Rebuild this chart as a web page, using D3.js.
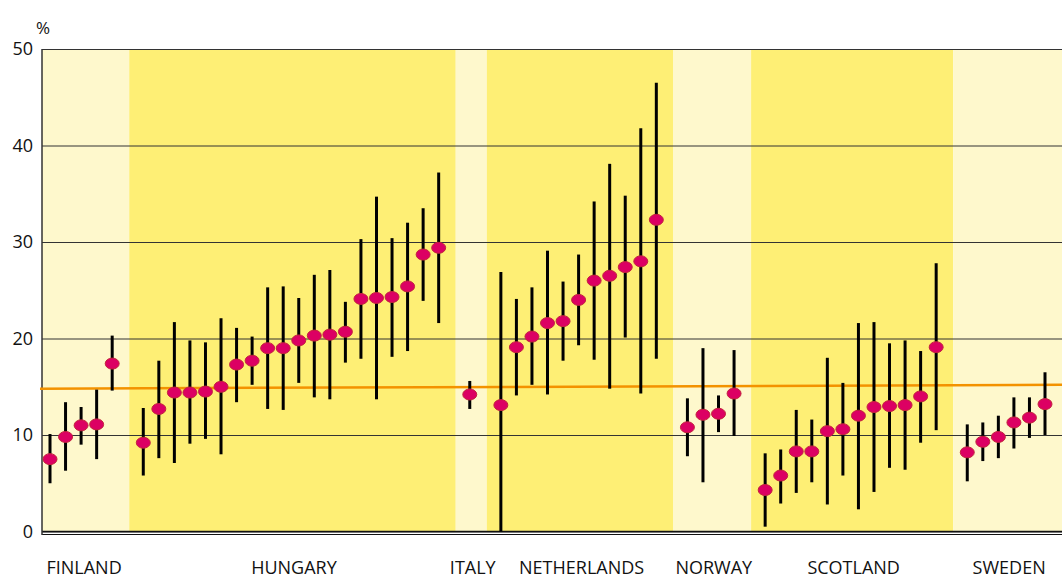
<!DOCTYPE html>
<html>
<head>
<meta charset="utf-8">
<script src="https://cdn.jsdelivr.net/npm/d3@7"></script>
<style>
  body { margin: 0; background: #fff; }
  svg { display: block; font-family: "Open Sans", "Noto Sans", sans-serif; }
</style>
</head>
<body>
<svg id="chart" width="1062" height="578"></svg>
<script>
// countries and their estimates (%), with lower / upper limits
var countries = ["FINLAND", "HUNGARY", "ITALY", "NETHERLANDS", "NORWAY", "SCOTLAND", "SWEDEN"];

var estimate = [
  [7.5, 9.8, 11.0, 11.1, 17.4],
  [9.2, 12.7, 14.4, 14.4, 14.5, 15.0, 17.3, 17.7, 19.0, 19.0, 19.8, 20.3, 20.4, 20.7, 24.1, 24.2, 24.3, 25.4, 28.7, 29.4],
  [14.2],
  [13.1, 19.1, 20.2, 21.6, 21.8, 24.0, 26.0, 26.5, 27.4, 28.0, 32.3],
  [10.8, 12.1, 12.2, 14.3],
  [4.3, 5.8, 8.3, 8.3, 10.4, 10.6, 12.0, 12.9, 13.0, 13.1, 14.0, 19.1],
  [8.2, 9.3, 9.8, 11.3, 11.8, 13.2]
];

var lower = [
  [5.0, 6.3, 9.0, 7.5, 14.6],
  [5.8, 7.6, 7.1, 9.1, 9.6, 8.0, 13.4, 15.2, 12.7, 12.6, 15.4, 13.9, 13.7, 17.5, 17.9, 13.7, 18.1, 18.7, 23.9, 21.6],
  [12.7],
  [0.0, 14.1, 15.2, 14.2, 17.7, 19.3, 17.8, 14.8, 20.1, 14.3, 17.9],
  [7.8, 5.1, 10.3, 9.9],
  [0.5, 2.9, 4.0, 5.1, 2.8, 5.8, 2.3, 4.1, 6.6, 6.4, 9.2, 10.5],
  [5.2, 7.3, 7.6, 8.6, 9.7, 10.0]
];

var upper = [
  [10.1, 13.4, 12.9, 14.7, 20.3],
  [12.8, 17.7, 21.7, 19.8, 19.6, 22.1, 21.1, 20.2, 25.3, 25.4, 24.2, 26.6, 27.1, 23.8, 30.3, 34.7, 30.4, 32.0, 33.5, 37.2],
  [15.6],
  [26.9, 24.1, 25.3, 29.1, 25.9, 28.7, 34.2, 38.1, 34.8, 41.8, 46.5],
  [13.8, 19.0, 14.1, 18.8],
  [8.1, 8.5, 12.6, 11.6, 18.0, 15.4, 21.6, 21.7, 19.5, 19.8, 18.7, 27.8],
  [11.1, 11.3, 12.0, 13.9, 13.9, 16.5]
];

var yTicks = [0, 10, 20, 30, 40, 50];
var refLine = [14.8, 15.2]; // orange reference line, left and right end

var width = 1062, height = 578;
var plotLeft = 42, plotTop = 49, plotBottom = 531.5;

var svg = d3.select("#chart");

// one slot per estimate, one empty slot between countries
var points = [], groups = [], slot = 0;
countries.forEach(function (c, g) {
  var start = slot;
  estimate[g].forEach(function (v, i) {
    points.push({ slot: slot, v: v, lo: lower[g][i], hi: upper[g][i] });
    slot++;
  });
  groups.push({ name: c, start: start, end: slot - 1, light: g % 2 === 0 });
  slot++;
});
var lastSlot = slot - 2;

var x = d3.scaleLinear().domain([0, lastSlot]).range([50, 1045]);
var y = d3.scaleLinear().domain([0, 50]).range([plotBottom, plotTop]);

// background bands
svg.append("g").selectAll("rect")
  .data(groups)
  .join("rect")
  .attr("x", function (d, i) { return i === 0 ? plotLeft : x(d.start - 1) + 1.5; })
  .attr("width", function (d, i) {
    var x0 = i === 0 ? plotLeft : x(d.start - 1) + 1.5;
    var x1 = i === groups.length - 1 ? width : x(d.end + 1) + 1.5;
    return x1 - x0;
  })
  .attr("y", plotTop)
  .attr("height", plotBottom - plotTop)
  .attr("fill", function (d) { return d.light ? "#fef8cc" : "#feef75"; });

// gridlines + labels
var axis = svg.append("g")
  .attr("transform", "translate(" + plotLeft + ",0)")
  .call(d3.axisLeft(y).tickValues(yTicks).tickSize(-(width - plotLeft)).tickPadding(9));
axis.select(".domain").remove();
axis.selectAll(".tick line").attr("stroke", "#333").attr("stroke-width", 1);
axis.selectAll(".tick text")
  .attr("fill", "#111")
  .style("font-size", "18px")
  .style("font-family", "'Open Sans', 'Noto Sans', sans-serif");

// zero line (double)
svg.append("line")
  .attr("x1", plotLeft).attr("x2", width)
  .attr("y1", y(0)).attr("y2", y(0))
  .attr("stroke", "#111").attr("stroke-width", 1.5);
svg.append("line")
  .attr("x1", plotLeft).attr("x2", width)
  .attr("y1", y(0) + 3).attr("y2", y(0) + 3)
  .attr("stroke", "#111").attr("stroke-width", 1);

// left axis line
svg.append("line")
  .attr("x1", plotLeft).attr("x2", plotLeft)
  .attr("y1", plotTop).attr("y2", y(0) + 3.5)
  .attr("stroke", "#333").attr("stroke-width", 1.5);

svg.append("text")
  .attr("x", 36).attr("y", 34)
  .style("font-size", "17px")
  .attr("fill", "#111")
  .text("%");

// reference line
svg.append("line")
  .attr("x1", plotLeft - 2).attr("x2", width)
  .attr("y1", y(refLine[0])).attr("y2", y(refLine[1]))
  .attr("stroke", "#f39200").attr("stroke-width", 2.5);

// error bars
svg.append("g").selectAll("line")
  .data(points)
  .join("line")
  .attr("x1", function (d) { return x(d.slot); })
  .attr("x2", function (d) { return x(d.slot); })
  .attr("y1", function (d) { return y(d.lo); })
  .attr("y2", function (d) { return y(d.hi); })
  .attr("stroke", "#000")
  .attr("stroke-width", 3);

// estimates
svg.append("g").selectAll("ellipse")
  .data(points)
  .join("ellipse")
  .attr("cx", function (d) { return x(d.slot); })
  .attr("cy", function (d) { return y(d.v); })
  .attr("rx", 7)
  .attr("ry", 5.5)
  .attr("fill", "#dc0063")
  .attr("stroke", "#c2243c")
  .attr("stroke-width", 1);

// country labels
svg.append("g").selectAll("text")
  .data(groups)
  .join("text")
  .attr("x", function (d) { return (x(d.start) + x(d.end)) / 2 + 3; })
  .attr("y", 574)
  .attr("text-anchor", "middle")
  .attr("fill", "#111")
  .style("font-size", "18px")
  .text(function (d) { return d.name; });
</script>
</body>
</html>
